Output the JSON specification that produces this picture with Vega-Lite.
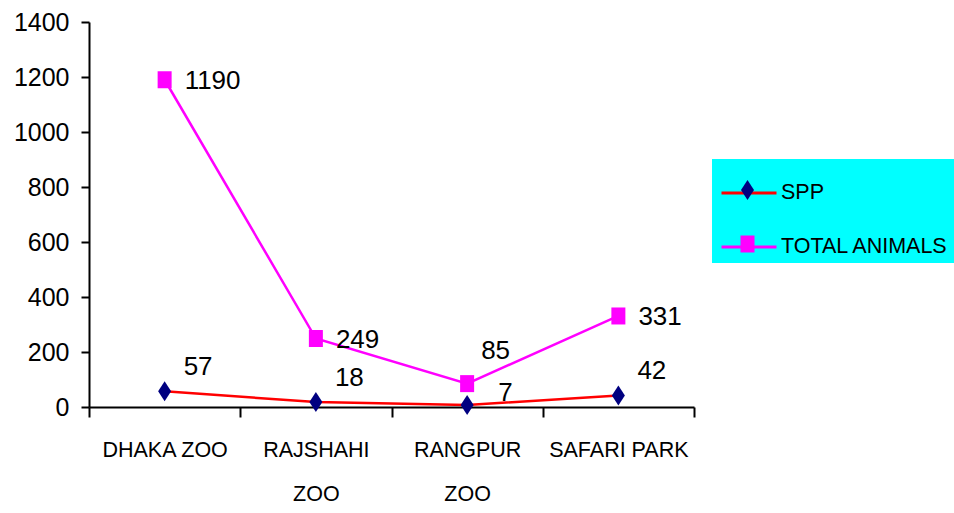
{
  "$schema": "https://vega.github.io/schema/vega-lite/v6.json",
  "width": 605,
  "height": 385,
  "autosize": "none",
  "padding": {"left": 89, "top": 22, "right": 260, "bottom": 106},
  "background": "white",
  "config": {
    "view": {"stroke": null},
    "font": "Liberation Sans, Arial, sans-serif"
  },
  "data": {
    "values": [
      {"zoo": "DHAKA ZOO", "series": "SPP", "value": 57},
      {"zoo": "RAJSHAHI ZOO", "series": "SPP", "value": 18},
      {"zoo": "RANGPUR ZOO", "series": "SPP", "value": 7},
      {"zoo": "SAFARI PARK", "series": "SPP", "value": 42},
      {"zoo": "DHAKA ZOO", "series": "TOTAL ANIMALS", "value": 1190},
      {"zoo": "RAJSHAHI ZOO", "series": "TOTAL ANIMALS", "value": 249},
      {"zoo": "RANGPUR ZOO", "series": "TOTAL ANIMALS", "value": 85},
      {"zoo": "SAFARI PARK", "series": "TOTAL ANIMALS", "value": 331}
    ]
  },
  "encoding": {
    "x": {
      "field": "zoo",
      "type": "nominal",
      "sort": ["DHAKA ZOO", "RAJSHAHI ZOO", "RANGPUR ZOO", "SAFARI PARK"],
      "scale": {"paddingInner": 0, "paddingOuter": 0},
      "axis": {
        "title": null,
        "labelAngle": 0,
        "tickBand": "extent",
        "tickSize": 10,
        "tickWidth": 2,
        "tickColor": "black",
        "domainColor": "black",
        "domainWidth": 2,
        "labelFontSize": 21.5,
        "labelColor": "black",
        "labelPadding": 22,
        "labelBaseline": "top",
        "labelLineHeight": 44,
        "labelLimit": 0,
        "labelExpr": "(datum.label == 'RAJSHAHI ZOO' || datum.label == 'RANGPUR ZOO') ? split(datum.label, ' ') : datum.label"
      }
    },
    "y": {
      "field": "value",
      "type": "quantitative",
      "scale": {"domain": [0, 1400], "nice": false},
      "axis": {
        "title": null,
        "format": "d",
        "values": [0, 200, 400, 600, 800, 1000, 1200, 1400],
        "grid": false,
        "domainColor": "black",
        "domainWidth": 2,
        "tickColor": "black",
        "tickWidth": 2,
        "tickSize": 8,
        "labelFontSize": 25,
        "labelColor": "black",
        "labelPadding": 12
      }
    }
  },
  "layer": [
    {
      "mark": {"type": "line", "strokeWidth": 2.5},
      "encoding": {
        "color": {
          "field": "series",
          "type": "nominal",
          "scale": {"domain": ["SPP", "TOTAL ANIMALS"], "range": ["#FF0000", "#FF00FF"]},
          "legend": {
            "orient": "none",
            "legendX": 623,
            "legendY": 137,
            "title": null,
            "fillColor": "#00FFFF",
            "padding": 5,
            "symbolOffset": 3,
            "symbolSize": 3025,
            "symbolType": "stroke",
            "symbolStrokeWidth": 3,
            "labelFontSize": 21.5,
            "labelOffset": 3,
            "labelColor": "black",
            "labelLimit": 0,
            "rowPadding": 14
          }
        }
      }
    },
    {
      "mark": {"type": "point", "filled": true, "opacity": 1, "size": 400, "strokeWidth": 0},
      "encoding": {
        "fill": {
          "field": "series",
          "type": "nominal",
          "scale": {"domain": ["TOTAL ANIMALS", "SPP"], "range": ["#FF00FF", "#000080"]},
          "legend": {
            "orient": "none",
            "legendX": 648.5,
            "legendY": 158,
            "title": null,
            "values": ["SPP", "TOTAL ANIMALS"],
            "padding": 0,
            "symbolOffset": 0,
            "symbolSize": 400,
            "symbolStrokeWidth": 0,
            "symbolOpacity": 1,
            "labelFontSize": 1,
            "labelOpacity": 0,
            "labelOffset": 0,
            "rowPadding": 34
          }
        },
        "shape": {
          "field": "series",
          "type": "nominal",
          "scale": {"domain": ["TOTAL ANIMALS", "SPP"], "range": ["M-0.7,-0.85L0.7,-0.85L0.7,0.85L-0.7,0.85Z", "M0,-1L0.65,0L0,1L-0.65,0Z"]},
          "legend": {
            "orient": "none",
            "legendX": 648.5,
            "legendY": 158,
            "title": null,
            "values": ["SPP", "TOTAL ANIMALS"],
            "padding": 0,
            "symbolOffset": 0,
            "symbolSize": 400,
            "symbolStrokeWidth": 0,
            "symbolOpacity": 1,
            "labelFontSize": 1,
            "labelOpacity": 0,
            "labelOffset": 0,
            "rowPadding": 34
          }
        }
      }
    },
    {
      "transform": [{"filter": "datum.series == 'SPP' && datum.zoo != 'RANGPUR ZOO'"}],
      "mark": {"type": "text", "align": "left", "baseline": "middle", "dx": 19, "dy": -24, "fontSize": 26, "color": "black"},
      "encoding": {"text": {"field": "value", "type": "quantitative"}}
    },
    {
      "transform": [{"filter": "datum.series == 'SPP' && datum.zoo == 'RANGPUR ZOO'"}],
      "mark": {"type": "text", "align": "left", "baseline": "middle", "dx": 31, "dy": -12, "fontSize": 26, "color": "black"},
      "encoding": {"text": {"field": "value", "type": "quantitative"}}
    },
    {
      "transform": [{"filter": "datum.series == 'TOTAL ANIMALS' && datum.zoo != 'RANGPUR ZOO'"}],
      "mark": {"type": "text", "align": "left", "baseline": "middle", "dx": 20, "dy": 1, "fontSize": 26, "color": "black"},
      "encoding": {"text": {"field": "value", "type": "quantitative"}}
    },
    {
      "transform": [{"filter": "datum.series == 'TOTAL ANIMALS' && datum.zoo == 'RANGPUR ZOO'"}],
      "mark": {"type": "text", "align": "left", "baseline": "middle", "dx": 14, "dy": -33, "fontSize": 26, "color": "black"},
      "encoding": {"text": {"field": "value", "type": "quantitative"}}
    }
  ]
}
